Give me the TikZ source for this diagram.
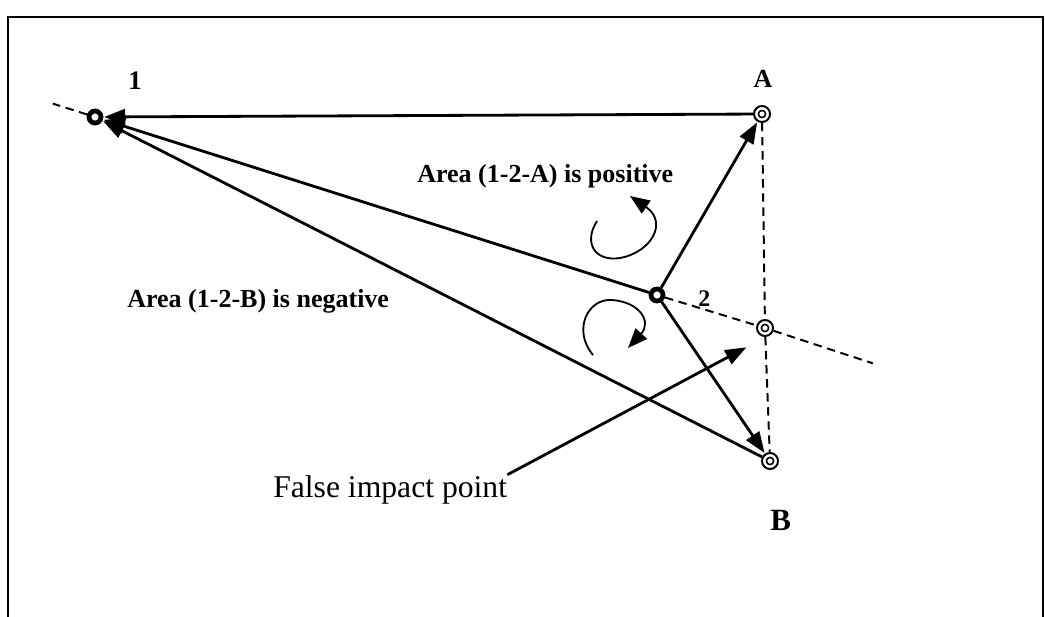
\documentclass[tikz,border=0pt]{standalone}
\usepackage{fontspec}
\setmainfont{Liberation Serif}
\usetikzlibrary{arrows.meta,calc}
\begin{document}
\begin{tikzpicture}[x=0.025cm,y=-0.025cm,
  arr/.style={line width=2pt,-{Triangle[length=15pt,width=11pt]},shorten >=0.5pt},
  dsh/.style={line width=1.4pt,dash pattern=on 6pt off 4pt},
  curl/.style={line width=1.3pt,-{Triangle[length=14pt,width=11pt]}},
  bpt/.style={circle,draw,line width=3.4pt,minimum size=0.3cm,inner sep=0pt,fill=white,
    path picture={\fill (path picture bounding box.center) circle (0.045cm);}},
  dpt/.style={circle,draw,line width=1.4pt,minimum size=0.4cm,inner sep=0pt,fill=white,
    path picture={\draw[line width=1.1pt] (path picture bounding box.center) circle (0.09cm);}},
  txt/.style={anchor=base west,inner sep=0pt}
]
\useasboundingbox (0,0) rectangle (1045,617);
% frame
\draw[line width=1.5pt] (8,617) -- (8,17) -- (1043,17) -- (1043,617);

% points
\node[bpt] (p1) at (95,117) {};
\node[bpt] (p2) at (657,295) {};
\node[dpt] (A) at (762,114) {};
\node[dpt] (F) at (765,328) {};
\node[dpt] (B) at (770,461) {};

% labels
\node[txt,font=\bfseries\fontsize{19}{22}\selectfont] (l1) at (128,90) {1};
\node[anchor=base,inner sep=0pt,font=\bfseries\fontsize{18.5}{22}\selectfont] (lA) at (763,88) {A};
\node[txt,font=\bfseries\fontsize{17}{20}\selectfont] (l2) at (698,306) {2};
\node[txt,font=\bfseries\fontsize{22}{26}\selectfont] (lB) at (770,530) {B};

\node[txt,font=\bfseries\fontsize{18.5}{22}\selectfont] (pos) at (417,183) {Area (1-2-A) is positive};
\node[txt,font=\bfseries\fontsize{18.5}{22}\selectfont] (neg) at (127,307) {Area (1-2-B) is negative};
\node[txt,font=\fontsize{22.5}{26}\selectfont] (fip) at (273,497) {False impact point};

% dashed lines
\coordinate (e1) at ($(p2)!1.075!(p1)$);
\coordinate (e2) at ($(p1)!1.384!(p2)$);
\draw[dsh] (p1) -- (e1);
\draw[dsh] (p2) -- (F);
\draw[dsh] (F) -- (e2);
\draw[dsh] (A) -- (F);
\draw[dsh] (F) -- (B);

% vectors
\draw[arr] (A) -- (p1);
\draw[arr] (p2) -- (p1);
\draw[arr] (B) -- (p1);
\draw[arr] (p2) -- (A);
\draw[arr] (p2) -- (B);

% false impact point arrow
\coordinate (ft) at (747,347);
\draw[arr] (fip.north east) -- (ft);

% rotation arrows
\draw[curl] (597,221) .. controls (583,243) and (595,262) .. (620,258) .. controls (652,252) and (668,222) .. (630,196);
\draw[curl] (593,355) .. controls (572,330) and (588,298) .. (612,300) .. controls (640,302) and (652,322) .. (628,348);
\end{tikzpicture}
\end{document}
